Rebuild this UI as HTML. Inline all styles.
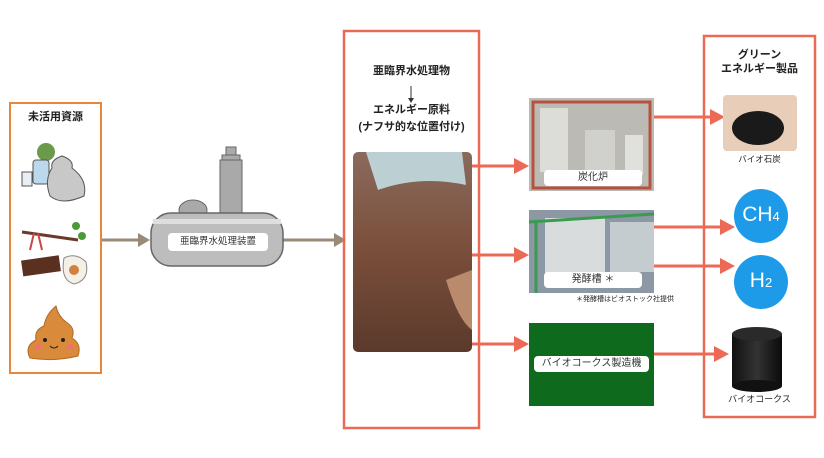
<!DOCTYPE html>
<html><head><meta charset="utf-8"><style>
body{margin:0;width:824px;height:458px;background:#fff;overflow:hidden;position:relative;font-family:"Liberation Sans","Noto Sans CJK JP",sans-serif}
.a{position:absolute}
.t{position:absolute;font-size:11px;color:#222;text-align:center}
.lbl{position:absolute;background:#fff;border-radius:4px;font-size:10px;text-align:center;color:#333}
</style></head><body>
<svg class="a" style="left:0;top:0" width="824" height="458">
<defs>
<linearGradient id="soil" x1="0" y1="0" x2="0" y2="1"><stop offset="0" stop-color="#8a6a5c"/><stop offset="0.5" stop-color="#7a4e3a"/><stop offset="1" stop-color="#5a3a2c"/></linearGradient>
<linearGradient id="cyl" x1="0" y1="0" x2="1" y2="0"><stop offset="0" stop-color="#111"/><stop offset="0.5" stop-color="#333"/><stop offset="1" stop-color="#0a0a0a"/></linearGradient>
</defs>
<rect x="10" y="103" width="91" height="270" fill="none" stroke="#e8873a" stroke-width="2"/>
<circle cx="46" cy="152" r="9" fill="#6a9a4a"/><rect x="33" y="160" width="16" height="24" rx="3" fill="#bcd8ec" stroke="#555"/>
<rect x="22" y="172" width="10" height="14" fill="#e8eef4" stroke="#555"/>
<path d="M52 168 Q50 160 62 156 Q74 160 72 168 Q88 180 84 196 Q62 206 50 196 Q44 180 52 168Z" fill="#c8c8c8" stroke="#555"/>
<path d="M22 232 L78 240" stroke="#6b3b2a" stroke-width="3"/><circle cx="76" cy="226" r="4" fill="#4a9a3a"/><circle cx="82" cy="236" r="4" fill="#4a9a3a"/>
<path d="M34 233 L30 250 M38 233 L42 250" stroke="#c44" stroke-width="2"/>
<rect x="22" y="258" width="38" height="16" fill="#5a3020" transform="rotate(-8 40 266)"/>
<path d="M64 258 Q76 252 86 262 Q90 280 74 284 Q60 280 64 258Z" fill="#f5f0e6" stroke="#888"/><circle cx="74" cy="270" r="5" fill="#d08040"/>
<path d="M30 358 Q24 346 36 340 Q34 330 44 326 Q46 314 56 306 Q58 316 66 322 Q76 328 72 338 Q82 344 78 356 Q54 362 30 358Z" fill="#d98a3a" stroke="#b06a20"/>
<circle cx="45" cy="340" r="2" fill="#222"/><circle cx="63" cy="340" r="2" fill="#222"/><path d="M50 346 Q54 350 58 346" stroke="#222" fill="none"/>
<circle cx="38" cy="347" r="3" fill="#f07070"/><circle cx="70" cy="347" r="3" fill="#f07070"/>
<line x1="102" y1="240" x2="140" y2="240" stroke="#9a8a78" stroke-width="3"/><polygon points="138,233 150,240 138,247" fill="#9a8a78"/>
<line x1="283" y1="240" x2="336" y2="240" stroke="#9a8a78" stroke-width="3"/><polygon points="334,233 346,240 334,247" fill="#9a8a78"/>
<rect x="222" y="155" width="18" height="6" fill="#aaa" stroke="#666"/><rect x="226" y="147" width="10" height="8" fill="#aaa" stroke="#666"/>
<rect x="220" y="160" width="22" height="56" fill="#a9a9a9" stroke="#666"/>
<ellipse cx="193" cy="210" rx="14" ry="10" fill="#a9a9a9" stroke="#666"/>
<rect x="151" y="213" width="132" height="53" rx="20" fill="#bdbdbd" stroke="#666" stroke-width="1.5"/>
<rect x="153" y="219" width="128" height="5" fill="#dedede"/>
<rect x="344" y="31" width="135" height="397" fill="none" stroke="#ec6a55" stroke-width="2.5"/>
<line x1="411" y1="86" x2="411" y2="100" stroke="#333"/><polygon points="408,98 411,103 414,98" fill="#333"/>
<rect x="353" y="152" width="119" height="200" rx="5" fill="url(#soil)"/>
<path d="M366 152 L462 152 L466 185 Q420 175 378 190Z" fill="#bccfd2"/>
<path d="M446 280 L472 270 L472 330 Q458 320 446 280Z" fill="#b98a6c"/>
<g stroke="#ec6a55" stroke-width="3">
<line x1="472" y1="166" x2="516" y2="166"/><line x1="472" y1="255" x2="516" y2="255"/><line x1="472" y1="344" x2="516" y2="344"/>
<line x1="654" y1="117" x2="712" y2="117"/><line x1="654" y1="227" x2="722" y2="227"/><line x1="654" y1="266" x2="722" y2="266"/><line x1="654" y1="354" x2="716" y2="354"/>
</g>
<g fill="#ec6a55">
<polygon points="514,158 529,166 514,174"/><polygon points="514,247 529,255 514,263"/><polygon points="514,336 529,344 514,352"/>
<polygon points="710,109 725,117 710,125"/><polygon points="720,219 735,227 720,235"/><polygon points="720,258 735,266 720,274"/><polygon points="714,346 729,354 714,362"/>
</g>
<rect x="529" y="98" width="125" height="93" fill="#bcbab4"/><rect x="533" y="102" width="117" height="86" fill="none" stroke="#b85040" stroke-width="3"/>
<rect x="540" y="108" width="28" height="64" fill="#dcdcd8"/><rect x="585" y="130" width="30" height="42" fill="#d0d0cc"/><rect x="625" y="135" width="18" height="40" fill="#e0e0dc"/>
<rect x="529" y="210" width="125" height="83" fill="#8c98a4"/><rect x="545" y="218" width="60" height="62" fill="#d8dcdc"/><rect x="610" y="222" width="44" height="50" fill="#c4ccd0"/>
<line x1="529" y1="222" x2="654" y2="214" stroke="#3a9a50" stroke-width="3"/><line x1="536" y1="220" x2="536" y2="293" stroke="#3a9a50" stroke-width="3"/>
<rect x="529" y="323" width="125" height="83" fill="#0e6a1c"/>
<rect x="704" y="36" width="111" height="381" fill="none" stroke="#ec6a55" stroke-width="2.5"/>
<rect x="723" y="95" width="74" height="56" rx="4" fill="#e8cdb8"/><ellipse cx="758" cy="128" rx="26" ry="17" fill="#1a1a1a"/>
<circle cx="761" cy="216" r="27" fill="#1e9be8"/><circle cx="761" cy="282" r="27" fill="#1e9be8"/>
<rect x="732" y="334" width="50" height="52" fill="url(#cyl)"/><ellipse cx="757" cy="386" rx="25" ry="6" fill="#111"/><ellipse cx="757" cy="334" rx="25" ry="7" fill="#2a2a2a"/>
</svg>
<div class="t" style="left:10px;top:108px;width:91px;font-weight:bold;font-size:11px">未活用資源</div>
<div class="lbl" style="left:168px;top:233px;width:100px;height:18px;line-height:18px;font-size:9.5px">亜臨界水処理装置</div>
<div class="t" style="left:344px;top:62px;width:135px;font-size:11px;font-weight:bold">亜臨界水処理物</div>
<div class="t" style="left:344px;top:102px;width:135px;font-size:11px;font-weight:bold;line-height:17px">エネルギー原料<br>(ナフサ的な位置付け)</div>
<div class="lbl" style="left:544px;top:170px;width:98px;height:16px;line-height:16px">炭化炉</div>
<div class="lbl" style="left:544px;top:272px;width:98px;height:16px;line-height:16px">発酵槽 ＊</div>
<div class="t" style="left:560px;top:294px;width:130px;font-size:7px">＊発酵槽はビオストック社提供</div>
<div class="lbl" style="left:534px;top:356px;width:115px;height:16px;line-height:16px">バイオコークス製造機</div>
<div class="t" style="left:704px;top:48px;width:111px;font-size:11px;font-weight:bold;line-height:14px">グリーン<br>エネルギー製品</div>
<div class="t" style="left:704px;top:153px;width:111px;font-size:8.5px">バイオ石炭</div>
<div class="t" style="left:734px;top:203px;width:54px;font-size:21px;color:#fff">CH<span style="font-size:13px">4</span></div>
<div class="t" style="left:734px;top:269px;width:54px;font-size:21px;color:#fff">H<span style="font-size:13px">2</span></div>
<div class="t" style="left:704px;top:392px;width:111px;font-size:9px">バイオコークス</div>
</body></html>
